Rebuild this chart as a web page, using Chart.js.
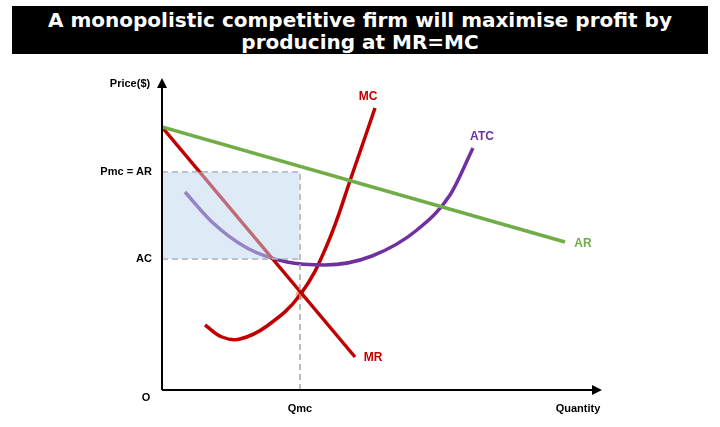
<!DOCTYPE html>
<html>
<head>
<meta charset="utf-8">
<script src="https://cdn.jsdelivr.net/npm/chart.js@4"></script>
<style>
  body { margin: 0; background: #fff; }
  #wrap { position: relative; width: 720px; height: 427px; }
  #title { position: absolute; left: 12px; top: 6px; width: 696px; height: 48px; background: #000; color: #fff;
    font: bold 20px "DejaVu Sans", Arial, sans-serif; text-align: center; line-height: 22px; padding-top: 3px; box-sizing: border-box; }
  canvas { position: absolute; left: 0; top: 0; }
</style>
</head>
<body>
<div id="wrap">
  <div id="title">A monopolistic competitive firm will maximise profit by<br>producing at MR=MC</div>
  <canvas id="c" width="720" height="427"></canvas>
</div>
<script>
// curve points (quantity, price) in chart units
const arCurve = [{x: 0, y: 263}, {x: 403, y: 148}];
const mrCurve = [{x: 0, y: 263}, {x: 193, y: 33}];
const mcCurve = [{x: 43, y: 65}, {x: 60, y: 53}, {x: 78, y: 51}, {x: 105, y: 64}, {x: 138, y: 95}, {x: 165, y: 145}, {x: 190, y: 215}, {x: 213, y: 282}];
const atcCurve = [{x: 23, y: 198}, {x: 50, y: 168}, {x: 85, y: 142}, {x: 125, y: 128}, {x: 163, y: 125}, {x: 210, y: 134}, {x: 255, y: 160}, {x: 288, y: 195}, {x: 311, y: 242}];
const qmc = 138, pmc = 218, ac = 131;

const labelsPlugin = {
  id: 'labels',
  afterDraw(chart) {
    const ctx = chart.ctx, xs = chart.scales.x, ys = chart.scales.y;
    const x0 = xs.getPixelForValue(0), y0 = ys.getPixelForValue(0);
    ctx.save();
    ctx.strokeStyle = '#000'; ctx.fillStyle = '#000'; ctx.lineWidth = 2;
    ctx.beginPath(); ctx.moveTo(x0, y0); ctx.lineTo(x0, 80); ctx.moveTo(x0, y0); ctx.lineTo(600, y0); ctx.stroke();
    ctx.beginPath(); ctx.moveTo(x0 - 5, 88); ctx.lineTo(x0, 78); ctx.lineTo(x0 + 5, 88); ctx.fill();
    ctx.beginPath(); ctx.moveTo(592, y0 - 5); ctx.lineTo(602, y0); ctx.lineTo(592, y0 + 5); ctx.fill();
    ctx.font = 'bold 11px "Liberation Sans", Arial, sans-serif';
    ctx.textBaseline = 'middle';
    const t = (s, x, y, c, a) => { ctx.fillStyle = c || '#000'; ctx.textAlign = a || 'center'; ctx.fillText(s, x, y); };
    t('Price($)', 130, 84);
    t('Quantity', 578, 409);
    t('O', 146, 398);
    t('Qmc', xs.getPixelForValue(qmc), 409);
    t('Pmc = AR', 152, ys.getPixelForValue(pmc), '#000', 'right');
    t('AC', 152, ys.getPixelForValue(ac), '#000', 'right');
    ctx.font = 'bold 12px "Liberation Sans", Arial, sans-serif';
    t('MC', 368, 97, '#c00000');
    t('ATC', 482, 137, '#7030a0');
    t('AR', 583, 244, '#70ad47');
    t('MR', 373, 358, '#c00000');
    ctx.restore();
  }
};

const line = (data, color, extra) => Object.assign({data, borderColor: color, borderWidth: 3.5, showLine: true, pointRadius: 0, fill: false, tension: 0}, extra || {});

new Chart(document.getElementById('c'), {
  type: 'scatter',
  data: {
    datasets: [
      line([{x: 0, y: pmc}, {x: qmc, y: pmc}], 'rgba(0,0,0,0)',
        {backgroundColor: 'rgba(189,215,238,0.5)', fill: {value: ac}, borderWidth: 0}),
      line([{x: 0, y: pmc}, {x: qmc, y: pmc}, {x: qmc, y: 0}], '#a6a6a6', {borderWidth: 1.5, borderDash: [6, 4]}),
      line([{x: 0, y: ac}, {x: qmc, y: ac}], '#a6a6a6', {borderWidth: 1.5, borderDash: [6, 4]}),
      line(arCurve, '#70ad47'),
      line(mrCurve, '#c00000'),
      line(atcCurve, '#7030a0', {cubicInterpolationMode: 'monotone'}),
      line(mcCurve, '#c00000', {tension: 0.4}),
      {data: [{x: qmc, y: 95}], pointRadius: 4, pointBackgroundColor: '#f4b183', pointBorderColor: '#f4b183'}
    ]
  },
  options: {
    responsive: false, animation: false,
    layout: {padding: {left: 162, right: 120, top: 80, bottom: 37}},
    plugins: {legend: {display: false}, tooltip: {enabled: false}},
    scales: {
      x: {type: 'linear', min: 0, max: 438, display: false},
      y: {type: 'linear', min: 0, max: 310, display: false}
    }
  },
  plugins: [labelsPlugin]
});
</script>
</body>
</html>
